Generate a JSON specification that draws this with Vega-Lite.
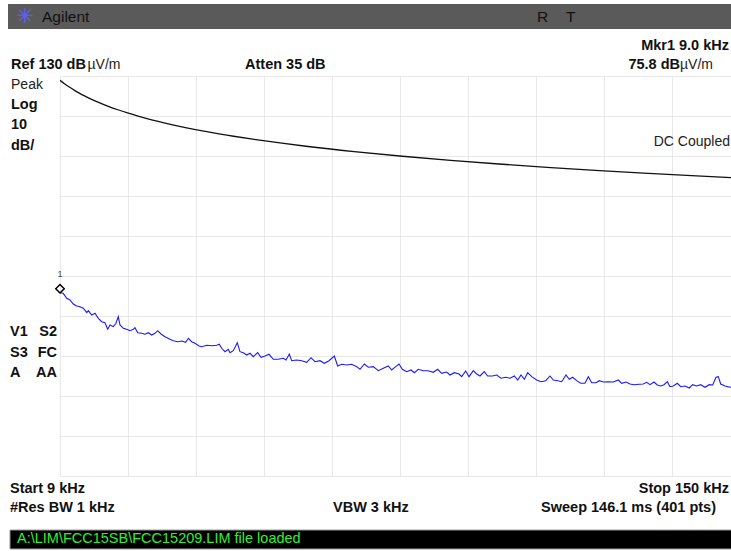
{
  "$schema": "https://vega.github.io/schema/vega-lite/v6.json",
  "width": 671,
  "height": 400,
  "autosize": {"type": "none"},
  "padding": {"left": 60, "top": 76, "right": 0, "bottom": 75},
  "background": "white",
  "config": {
    "view": {"stroke": null},
    "axis": {"labels": false, "ticks": false, "domain": false, "title": null, "grid": true, "gridColor": "#e8e8e8", "gridWidth": 1}
  },
  "datasets": {
    "headerBar": [{"f": -1.78, "f2": 150, "db": 148, "db2": 141.75}],
    "footerBar": [{"f": -1.37, "f2": 150, "db": 16.5, "db2": 11.75}],
    "limit": [
      {"f": 9, "db": 128.92}, {"f": 10, "db": 128.0}, {"f": 11, "db": 127.18}, {"f": 12, "db": 126.42},
      {"f": 13, "db": 125.73}, {"f": 14, "db": 125.08}, {"f": 15, "db": 124.48}, {"f": 17, "db": 123.4},
      {"f": 19, "db": 122.43}, {"f": 21, "db": 121.56}, {"f": 23, "db": 120.77}, {"f": 25, "db": 120.05},
      {"f": 28, "db": 119.06}, {"f": 31, "db": 118.18}, {"f": 35, "db": 117.12}, {"f": 40, "db": 115.96},
      {"f": 45, "db": 114.94}, {"f": 50, "db": 114.02}, {"f": 55, "db": 113.2}, {"f": 60, "db": 112.44},
      {"f": 70, "db": 111.1}, {"f": 80, "db": 109.94}, {"f": 90, "db": 108.92}, {"f": 100, "db": 108.0},
      {"f": 110, "db": 107.18}, {"f": 120, "db": 106.42}, {"f": 130, "db": 105.73}, {"f": 140, "db": 105.08},
      {"f": 150, "db": 104.48}
    ],
    "trace": [
      {"f": 9.0, "db": 75.8}, {"f": 9.68, "db": 75.67}, {"f": 10.39, "db": 74.42}, {"f": 11.07, "db": 74.0},
      {"f": 11.76, "db": 73.0}, {"f": 12.46, "db": 72.5}, {"f": 13.15, "db": 72.33}, {"f": 13.83, "db": 71.93},
      {"f": 14.54, "db": 70.83}, {"f": 14.87, "db": 71.33}, {"f": 15.57, "db": 70.25}, {"f": 16.26, "db": 70.68},
      {"f": 16.94, "db": 69.43}, {"f": 17.65, "db": 68.58}, {"f": 18.33, "db": 68.33}, {"f": 18.89, "db": 66.68},
      {"f": 19.37, "db": 67.75}, {"f": 20.05, "db": 67.33}, {"f": 20.61, "db": 68.18}, {"f": 21.09, "db": 69.83},
      {"f": 21.44, "db": 67.75}, {"f": 22.13, "db": 66.93}, {"f": 22.83, "db": 66.68}, {"f": 23.51, "db": 66.33},
      {"f": 24.2, "db": 66.68}, {"f": 24.55, "db": 67.08}, {"f": 25.11, "db": 65.83}, {"f": 25.94, "db": 65.68},
      {"f": 26.62, "db": 65.43}, {"f": 27.31, "db": 65.83}, {"f": 28.01, "db": 65.25}, {"f": 28.7, "db": 65.68},
      {"f": 29.26, "db": 66.33}, {"f": 29.94, "db": 65.5}, {"f": 30.77, "db": 64.83}, {"f": 31.81, "db": 64.18},
      {"f": 32.49, "db": 63.83}, {"f": 33.41, "db": 63.58}, {"f": 34.24, "db": 63.75}, {"f": 35.06, "db": 63.43},
      {"f": 35.6, "db": 64.43}, {"f": 36.31, "db": 63.58}, {"f": 36.99, "db": 63.18}, {"f": 37.82, "db": 62.5},
      {"f": 38.38, "db": 62.33}, {"f": 39.42, "db": 62.68}, {"f": 40.46, "db": 62.58}, {"f": 41.49, "db": 62.68},
      {"f": 42.03, "db": 62.93}, {"f": 42.53, "db": 61.93}, {"f": 43.21, "db": 61.08}, {"f": 43.9, "db": 61.68},
      {"f": 44.25, "db": 60.83}, {"f": 44.93, "db": 61.33}, {"f": 45.76, "db": 63.33}, {"f": 46.32, "db": 61.08},
      {"f": 47.01, "db": 60.83}, {"f": 47.71, "db": 60.25}, {"f": 48.4, "db": 60.68}, {"f": 49.08, "db": 59.83},
      {"f": 49.99, "db": 60.83}, {"f": 50.68, "db": 59.68}, {"f": 51.51, "db": 60.0}, {"f": 52.34, "db": 60.43},
      {"f": 53.23, "db": 59.18}, {"f": 54.27, "db": 59.18}, {"f": 55.3, "db": 59.43}, {"f": 55.86, "db": 59.0},
      {"f": 56.55, "db": 60.5}, {"f": 57.04, "db": 58.83}, {"f": 58.08, "db": 59.0}, {"f": 59.12, "db": 58.83},
      {"f": 60.15, "db": 58.43}, {"f": 61.05, "db": 59.58}, {"f": 61.88, "db": 58.58}, {"f": 62.91, "db": 58.83},
      {"f": 63.8, "db": 58.18}, {"f": 64.78, "db": 58.83}, {"f": 65.88, "db": 60.0}, {"f": 66.58, "db": 57.5},
      {"f": 67.41, "db": 57.93}, {"f": 68.45, "db": 57.75}, {"f": 69.49, "db": 57.93}, {"f": 70.52, "db": 57.33},
      {"f": 71.21, "db": 56.68}, {"f": 72.1, "db": 58.0}, {"f": 72.93, "db": 57.18}, {"f": 73.96, "db": 57.33},
      {"f": 75.0, "db": 56.33}, {"f": 76.04, "db": 56.93}, {"f": 77.07, "db": 57.5}, {"f": 77.78, "db": 56.5},
      {"f": 78.61, "db": 57.33}, {"f": 79.29, "db": 58.0}, {"f": 79.98, "db": 56.68}, {"f": 80.89, "db": 56.08},
      {"f": 81.78, "db": 56.5}, {"f": 82.47, "db": 55.83}, {"f": 83.3, "db": 56.68}, {"f": 84.33, "db": 56.33},
      {"f": 85.37, "db": 56.33}, {"f": 86.4, "db": 55.93}, {"f": 87.32, "db": 56.68}, {"f": 88.15, "db": 55.68},
      {"f": 89.18, "db": 56.0}, {"f": 89.87, "db": 55.25}, {"f": 90.76, "db": 55.83}, {"f": 91.73, "db": 55.5},
      {"f": 92.29, "db": 54.83}, {"f": 93.12, "db": 56.25}, {"f": 93.81, "db": 54.83}, {"f": 94.7, "db": 56.33},
      {"f": 95.4, "db": 55.5}, {"f": 96.09, "db": 55.0}, {"f": 96.98, "db": 56.08}, {"f": 97.68, "db": 55.0},
      {"f": 98.64, "db": 55.0}, {"f": 99.55, "db": 55.25}, {"f": 100.44, "db": 54.43}, {"f": 101.42, "db": 54.68},
      {"f": 102.31, "db": 54.43}, {"f": 103.2, "db": 55.0}, {"f": 103.91, "db": 54.0}, {"f": 104.59, "db": 55.25},
      {"f": 105.28, "db": 54.18}, {"f": 105.98, "db": 55.83}, {"f": 106.81, "db": 54.83}, {"f": 107.85, "db": 54.0},
      {"f": 108.74, "db": 53.58}, {"f": 109.71, "db": 53.83}, {"f": 110.6, "db": 55.0}, {"f": 111.29, "db": 54.0},
      {"f": 112.2, "db": 53.83}, {"f": 113.03, "db": 53.58}, {"f": 113.92, "db": 55.25}, {"f": 114.61, "db": 54.18},
      {"f": 115.31, "db": 54.68}, {"f": 116.14, "db": 53.83}, {"f": 116.97, "db": 53.18}, {"f": 117.86, "db": 53.18},
      {"f": 118.55, "db": 54.83}, {"f": 119.25, "db": 53.33}, {"f": 120.14, "db": 53.33}, {"f": 120.83, "db": 53.83},
      {"f": 121.66, "db": 53.5}, {"f": 122.69, "db": 53.58}, {"f": 123.73, "db": 53.5}, {"f": 124.77, "db": 54.0},
      {"f": 125.47, "db": 53.18}, {"f": 126.36, "db": 53.5}, {"f": 127.19, "db": 53.0}, {"f": 128.02, "db": 52.83},
      {"f": 129.12, "db": 52.93}, {"f": 129.95, "db": 53.0}, {"f": 130.65, "db": 53.43}, {"f": 131.34, "db": 52.83},
      {"f": 132.17, "db": 53.5}, {"f": 132.85, "db": 52.75}, {"f": 133.56, "db": 52.5}, {"f": 134.24, "db": 52.83},
      {"f": 134.93, "db": 53.58}, {"f": 135.49, "db": 52.33}, {"f": 136.17, "db": 52.5}, {"f": 137.0, "db": 53.18},
      {"f": 137.71, "db": 52.33}, {"f": 138.6, "db": 52.5}, {"f": 139.49, "db": 52.0}, {"f": 140.19, "db": 52.83},
      {"f": 141.02, "db": 52.5}, {"f": 141.85, "db": 52.83}, {"f": 142.74, "db": 52.18}, {"f": 143.63, "db": 52.83},
      {"f": 144.34, "db": 52.75}, {"f": 145.02, "db": 54.68}, {"f": 145.5, "db": 54.83}, {"f": 146.0, "db": 53.0},
      {"f": 146.89, "db": 52.5}, {"f": 147.93, "db": 52.18}, {"f": 150.0, "db": 52.4}
    ],
    "marker": [{"f": 9, "db": 75.8, "label": "1"}],
    "boldLeft": [
      {"text": "Ref 130 dB", "f": -1.16, "db": 132.63},
      {"text": "Atten 35 dB", "f": 47.36, "db": 132.63},
      {"text": "Log", "f": -1.16, "db": 122.75},
      {"text": "10", "f": -1.16, "db": 117.75},
      {"text": "dB/", "f": -1.16, "db": 112.5},
      {"text": "V1", "f": -1.37, "db": 66.0},
      {"text": "S3", "f": -1.37, "db": 60.83},
      {"text": "A", "f": -1.37, "db": 55.75},
      {"text": "Start 9 kHz", "f": -1.37, "db": 26.75},
      {"text": "#Res BW 1 kHz", "f": -1.37, "db": 22.0},
      {"text": "VBW 3 kHz", "f": 65.61, "db": 22.0}
    ],
    "boldRight": [
      {"text": "Mkr1  9.0 kHz", "f": 147.72, "db": 137.5},
      {"text": "75.8 dB", "f": 137.56, "db": 132.63},
      {"text": "S2", "f": 8.38, "db": 66.0},
      {"text": "FC", "f": 8.38, "db": 60.83},
      {"text": "AA", "f": 8.38, "db": 55.75},
      {"text": "Stop 150 kHz", "f": 147.72, "db": 26.75},
      {"text": "Sweep 146.1 ms (401 pts)", "f": 145.02, "db": 22.0}
    ],
    "normalLeft": [
      {"text": "Peak", "f": -1.16, "db": 127.75},
      {"text": "µV/m", "f": 14.7, "db": 132.63},
      {"text": "µV/m", "f": 137.56, "db": 132.63}
    ],
    "normalRight": [
      {"text": "DC Coupled", "f": 147.92, "db": 113.58}
    ],
    "header": [
      {"text": "Agilent", "f": 5.27, "db": 144.75},
      {"text": "R", "f": 107.91, "db": 144.75},
      {"text": "T", "f": 113.92, "db": 144.75}
    ],
    "logo": [{"text": "✳", "f": 1.74, "db": 144.75}],
    "footerText": [{"text": "A:\\LIM\\FCC15SB\\FCC15209.LIM file loaded", "f": 0.08, "db": 14.25}]
  },
  "encoding": {
    "x": {
      "field": "f", "type": "quantitative",
      "scale": {"domain": [9, 148.135], "nice": false, "zero": false},
      "axis": {"values": [9, 23.1, 37.2, 51.3, 65.4, 79.5, 93.6, 107.7, 121.8, 135.9]}
    },
    "y": {
      "field": "db", "type": "quantitative",
      "scale": {"domain": [30, 130], "nice": false, "zero": false},
      "axis": {"values": [30, 40, 50, 60, 70, 80, 90, 100, 110, 120, 130]}
    }
  },
  "layer": [
    {
      "data": {"name": "headerBar"},
      "mark": {"type": "rect", "color": "#5a5a5a"},
      "encoding": {"x2": {"field": "f2"}, "y2": {"field": "db2"}}
    },
    {
      "data": {"name": "footerBar"},
      "mark": {"type": "rect", "fill": "#000000", "stroke": "#9a9a9a", "strokeWidth": 1},
      "encoding": {"x2": {"field": "f2"}, "y2": {"field": "db2"}}
    },
    {
      "data": {"name": "limit"},
      "mark": {"type": "line", "color": "#111111", "strokeWidth": 1.3, "clip": true, "interpolate": "monotone"}
    },
    {
      "data": {"name": "trace"},
      "mark": {"type": "line", "color": "#1a1aff", "strokeWidth": 1.1, "clip": true}
    },
    {
      "data": {"name": "marker"},
      "mark": {"type": "point", "shape": "diamond", "size": 72, "filled": false, "stroke": "#000000", "strokeWidth": 1.5, "opacity": 1, "yOffset": -4}
    },
    {
      "data": {"name": "marker"},
      "mark": {"type": "text", "dy": -19, "fontSize": 9, "color": "#444444", "font": "Liberation Sans, Arial, sans-serif", "align": "center", "baseline": "middle"},
      "encoding": {"text": {"field": "label"}}
    },
    {
      "data": {"name": "boldLeft"},
      "mark": {"type": "text", "align": "left", "baseline": "middle", "font": "Liberation Sans, Arial, sans-serif", "fontSize": 14.5, "fontWeight": "bold", "color": "#111111"},
      "encoding": {"text": {"field": "text"}}
    },
    {
      "data": {"name": "boldRight"},
      "mark": {"type": "text", "align": "right", "baseline": "middle", "font": "Liberation Sans, Arial, sans-serif", "fontSize": 14.5, "fontWeight": "bold", "color": "#111111"},
      "encoding": {"text": {"field": "text"}}
    },
    {
      "data": {"name": "normalLeft"},
      "mark": {"type": "text", "align": "left", "baseline": "middle", "font": "Liberation Sans, Arial, sans-serif", "fontSize": 14, "color": "#222222"},
      "encoding": {"text": {"field": "text"}}
    },
    {
      "data": {"name": "normalRight"},
      "mark": {"type": "text", "align": "right", "baseline": "middle", "font": "Liberation Sans, Arial, sans-serif", "fontSize": 14, "color": "#222222"},
      "encoding": {"text": {"field": "text"}}
    },
    {
      "data": {"name": "header"},
      "mark": {"type": "text", "align": "left", "baseline": "middle", "font": "Liberation Sans, Arial, sans-serif", "fontSize": 15.5, "color": "#111111"},
      "encoding": {"text": {"field": "text"}}
    },
    {
      "data": {"name": "logo"},
      "mark": {"type": "text", "align": "center", "baseline": "middle", "font": "DejaVu Sans", "fontSize": 21, "color": "#6060ff"},
      "encoding": {"text": {"field": "text"}}
    },
    {
      "data": {"name": "footerText"},
      "mark": {"type": "text", "align": "left", "baseline": "middle", "font": "Liberation Sans, Arial, sans-serif", "fontSize": 14.5, "color": "#33ee33"},
      "encoding": {"text": {"field": "text"}}
    }
  ]
}
